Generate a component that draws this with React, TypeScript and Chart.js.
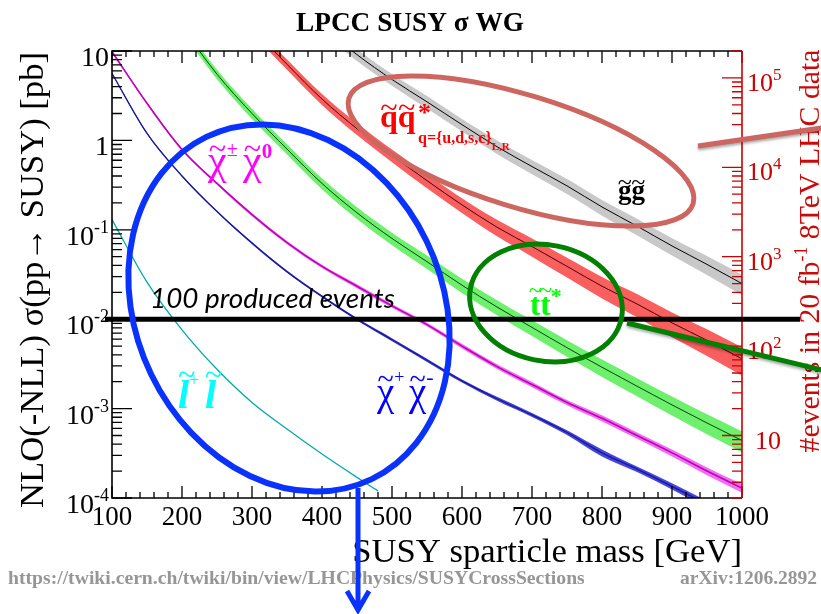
import React, { useEffect, useRef } from "react";
import { Chart, registerables } from "chart.js";

Chart.register(...registerables);

const SERIF = '"Liberation Serif", "Times New Roman", "DejaVu Serif", serif';
const SANS_IT = 'Lato, "Open Sans", "DejaVu Sans", sans-serif';

// ---------------- data ----------------
const massGeV = [100, 150, 200, 250, 300, 350, 400, 450, 500, 550, 600, 650, 700, 750, 800, 850, 900, 950, 1000];

// gluino pair, sigma [pb]
const gluinoPb = [null, null, null, null, null, null, 19, 9.1, 4.8, 2.7, 1.5, 0.85, 0.51, 0.31, 0.18, 0.11, 0.066, 0.041, 0.025];
const gluinoErrPct = [null, null, null, null, null, null, 15, 15, 15, 16, 16, 17, 18, 19, 20, 21, 22, 24, 26];

// squark-antisquark, sigma [pb]
const squarkPb = [null, null, null, null, 18, 7.1, 2.9, 1.35, 0.68, 0.355, 0.19, 0.107, 0.065, 0.039, 0.0234, 0.0148, 0.0091, 0.0058, 0.0036];
const squarkErrPct = [null, null, null, null, 13, 13, 14, 15, 16, 18, 19, 21, 23, 25, 27, 29, 31, 33, 35];

// stop-antistop, sigma [pb]
const stopPb = [null, null, 18.5, 5.5, 2.0, 0.8, 0.33, 0.155, 0.08, 0.044, 0.024, 0.0137, 0.0081, 0.0048, 0.0029, 0.00178, 0.0011, 0.00069, 0.00044];
const stopErrPct = [null, null, 12, 12, 13, 13, 14, 15, 16, 17, 18, 19, 20, 21, 22, 23, 24, 25, 26];

// chargino-neutralino, sigma [pb]
const c1n2Pb = [9.8, 2.6, 0.79, 0.33, 0.148, 0.072, 0.039, 0.0234, 0.0141, 0.0087, 0.005, 0.00295, 0.00186, 0.00117, 0.00078, 0.0005, 0.00032, 0.0002, 0.000129];
const c1n2ErrPct = [3, 3, 3, 3, 4, 4, 4, 5, 5, 5, 6, 6, 7, 7, 8, 8, 9, 10, 11];

// chargino pair, sigma [pb]
const c1c1Pb = [5.6, 1.2, 0.4, 0.16, 0.071, 0.034, 0.018, 0.01, 0.0059, 0.00347, 0.00204, 0.00129, 0.00085, 0.00054, 0.00032, 0.00021, 0.000135, 0.000085, null];
const c1c1ErrPct = [2, 2, 2, 2, 3, 3, 3, 3, 4, 4, 4, 5, 5, 6, 9, 7, 8, 9, null];

// slepton pair, sigma [pb]
const sleptonMassGeV = [100, 150, 200, 250, 300, 350, 400, 450, 480];
const sleptonPb = [0.13, 0.026, 0.0076, 0.00275, 0.00117, 0.00059, 0.00031, 0.00017, 0.00012];

// axes
const xMin = 100;
const xMax = 1000;
const xMajorTicks = [100, 200, 300, 400, 500, 600, 700, 800, 900, 1000];
const xMinorStep = 20;
const yMin = 1e-4;
const yMax = 10;
const yDecadeValues = [10, 1, 0.1, 0.01, 0.001, 0.0001];
const yDecadeLabels = [["10", ""], ["1", ""], ["10", "-1"], ["10", "-2"], ["10", "-3"], ["10", "-4"]];
const lumiPbInv = 20000; // 20 fb^-1
const eventDecadeValues = [10, 100, 1000, 10000, 100000];
const eventDecadeLabels = [["10", ""], ["10", "2"], ["10", "3"], ["10", "4"], ["10", "5"]];
const refLineSigma = 0.01;

// ---------------- helpers ----------------
type Seg = {
  t: string;
  size: number;
  bold?: boolean;
  italic?: boolean;
  family?: string;
  dy?: number;
  at?: number;
  tilde?: { size: number; dy: number; dx?: number };
};

function fontOf(s: Seg, k = 1) {
  return `${s.italic ? "italic " : ""}${s.bold ? "bold " : ""}${(s.size * k).toFixed(2)}px ${s.family || SERIF}`;
}

function segsWidth(ctx: CanvasRenderingContext2D, segs: Seg[], k = 1) {
  let cx = 0;
  for (const s of segs) {
    if (s.at !== undefined) cx = s.at * k;
    ctx.font = fontOf(s, k);
    cx += ctx.measureText(s.t).width;
  }
  return cx;
}

function drawSegs(ctx: CanvasRenderingContext2D, segs: Seg[], x: number, y: number, color: string, k = 1) {
  let cx = 0;
  ctx.fillStyle = color;
  ctx.textAlign = "left";
  ctx.textBaseline = "alphabetic";
  for (const s of segs) {
    if (s.at !== undefined) cx = s.at * k;
    ctx.font = fontOf(s, k);
    const w = ctx.measureText(s.t).width;
    ctx.fillText(s.t, x + cx, y + (s.dy || 0) * k);
    if (s.tilde) {
      ctx.font = `${(s.tilde.size * k).toFixed(2)}px ${SERIF}`;
      const tw = ctx.measureText("~").width;
      ctx.fillText("~", x + cx + (w - tw) / 2 + (s.tilde.dx || 0) * k, y + s.tilde.dy * k);
    }
    cx += w;
  }
}

function pts(mass: number[], vals: (number | null)[], err?: (number | null)[], sign = 0) {
  const out: { x: number; y: number }[] = [];
  mass.forEach((m, i) => {
    const v = vals[i];
    if (v === null || v === undefined) return;
    const e = err ? (err[i] as number) / 100 : 0;
    out.push({ x: m, y: v * (1 + sign * e) });
  });
  return out;
}

function lineDs(label: string, mass: number[], vals: (number | null)[], color: string, width: number) {
  return {
    label,
    data: pts(mass, vals),
    borderColor: color,
    backgroundColor: color,
    borderWidth: width,
    pointRadius: 0,
    fill: false,
    cubicInterpolationMode: "monotone",
    clip: 0,
    order: 0,
  };
}

function bandDs(label: string, mass: number[], vals: (number | null)[], err: (number | null)[], color: string) {
  return [
    {
      label: label + " up",
      data: pts(mass, vals, err, 1),
      borderColor: "rgba(0,0,0,0)",
      backgroundColor: color,
      borderWidth: 0,
      pointRadius: 0,
      fill: "+1",
      cubicInterpolationMode: "monotone",
      clip: 0,
      order: 1,
    },
    {
      label: label + " down",
      data: pts(mass, vals, err, -1),
      borderColor: "rgba(0,0,0,0)",
      backgroundColor: color,
      borderWidth: 0,
      pointRadius: 0,
      fill: false,
      cubicInterpolationMode: "monotone",
      clip: 0,
      order: 1,
    },
  ];
}

const RED_AXIS = "rgb(204,0,0)";

const decorPlugin = {
  id: "decor",
  afterDraw(chart: any) {
    const ctx = chart.ctx as CanvasRenderingContext2D;
    const a = chart.chartArea;
    const xs = chart.scales.x;
    const ys = chart.scales.y;
    const y2 = chart.scales.y2;
    ctx.save();
    ctx.lineCap = "butt";

    // ---- frame & ticks ----
    ctx.strokeStyle = "#000";
    ctx.lineWidth = 1.6;
    ctx.beginPath();
    ctx.moveTo(a.right, a.top);
    ctx.lineTo(a.left, a.top);
    ctx.lineTo(a.left, a.bottom);
    ctx.lineTo(a.right, a.bottom);
    ctx.stroke();

    ctx.lineWidth = 1.3;
    ctx.beginPath();
    for (let m = xMin; m <= xMax + 0.001; m += xMinorStep) {
      const px = xs.getPixelForValue(m);
      const len = xMajorTicks.includes(m) ? 12 : 6;
      ctx.moveTo(px, a.bottom);
      ctx.lineTo(px, a.bottom - len);
      ctx.moveTo(px, a.top);
      ctx.lineTo(px, a.top + len);
    }
    for (let e = -4; e <= 1; e++) {
      for (let k = 1; k <= 9; k++) {
        const v = k * Math.pow(10, e);
        if (v < yMin * 0.999 || v > yMax * 1.001) continue;
        const py = ys.getPixelForValue(v);
        const len = k === 1 ? 20 : 10;
        ctx.moveTo(a.left, py);
        ctx.lineTo(a.left + len, py);
      }
    }
    ctx.stroke();

    // right (events) axis
    ctx.strokeStyle = RED_AXIS;
    ctx.lineWidth = 1.6;
    ctx.beginPath();
    ctx.moveTo(a.right, a.top);
    ctx.lineTo(a.right, a.bottom);
    ctx.stroke();
    ctx.lineWidth = 1.3;
    ctx.beginPath();
    for (let e = 0; e <= 5; e++) {
      for (let k = 1; k <= 9; k++) {
        const v = k * Math.pow(10, e);
        if (v < yMin * lumiPbInv * 0.999 || v > yMax * lumiPbInv * 1.001) continue;
        const py = y2.getPixelForValue(v);
        const len = k === 1 ? 20 : 10;
        ctx.moveTo(a.right, py);
        ctx.lineTo(a.right - len, py);
      }
    }
    ctx.stroke();

    // ---- tick labels ----
    yDecadeValues.forEach((v, i) => {
      const py = ys.getPixelForValue(v);
      const [b, ex] = yDecadeLabels[i];
      const segs: Seg[] = [{ t: b, size: 28 }];
      if (ex) segs.push({ t: ex, size: 18, dy: -12 });
      const w = segsWidth(ctx, segs);
      drawSegs(ctx, segs, a.left - 3 - w, py + 15, "#000");
    });
    xMajorTicks.forEach((m) => {
      const px = xs.getPixelForValue(m);
      const segs: Seg[] = [{ t: String(m), size: 27 }];
      const w = segsWidth(ctx, segs);
      drawSegs(ctx, segs, px - w / 2, a.bottom + 27, "#000");
    });
    eventDecadeValues.forEach((v, i) => {
      const py = y2.getPixelForValue(v);
      const [b, ex] = eventDecadeLabels[i];
      const segs: Seg[] = [{ t: b, size: 26 }];
      if (ex) segs.push({ t: ex, size: 17, dy: -11 });
      drawSegs(ctx, segs, ex ? a.right + 5 : a.right + 13, py + 13, RED_AXIS);
    });

    // ---- axis titles ----
    {
      const segs: Seg[] = [{ t: "NLO(-NLL) σ(pp→ SUSY) [pb]", size: 34 }];
      const k = 456 / segsWidth(ctx, segs);
      const w = segsWidth(ctx, segs, k);
      ctx.save();
      ctx.translate(43, 280);
      ctx.rotate(-Math.PI / 2);
      drawSegs(ctx, segs, -w / 2, 0, "#000", k);
      ctx.restore();
    }
    {
      const segs: Seg[] = [
        { t: "#events in 20 fb", size: 30 },
        { t: "-1", size: 18, dy: -12 },
        { t: " 8TeV LHC data", size: 30 },
      ];
      const k = 403 / segsWidth(ctx, segs);
      const w = segsWidth(ctx, segs, k);
      ctx.save();
      ctx.translate(819, 251);
      ctx.rotate(-Math.PI / 2);
      drawSegs(ctx, segs, -w / 2, 0, "rgb(200,10,10)", k);
      ctx.restore();
    }
    {
      const segs: Seg[] = [{ t: "SUSY sparticle mass [GeV]", size: 34 }];
      const k = 390 / segsWidth(ctx, segs);
      const w = segsWidth(ctx, segs, k);
      drawSegs(ctx, segs, a.right - w, 562, "#000", k);
    }
    {
      const segs: Seg[] = [{ t: "LPCC SUSY σ WG", size: 26, bold: true }];
      const k = 228 / segsWidth(ctx, segs);
      const w = segsWidth(ctx, segs, k);
      drawSegs(ctx, segs, 410 - w / 2, 31, "#000", k);
    }

    // ---- process labels ----
    drawSegs(
      ctx,
      [
        { t: "q", size: 32, bold: true, tilde: { size: 32, dy: -9 } },
        { t: "q", size: 32, bold: true, tilde: { size: 32, dy: -9 } },
        { t: "*", size: 26, bold: true, dy: -6, at: 38 },
        { t: "q={u,d,s,c}", size: 16, bold: true, dy: 16, at: 38 },
        { t: "L,R", size: 11, bold: true, dy: 23 },
      ],
      380,
      127,
      "rgb(255,0,0)"
    );
    drawSegs(
      ctx,
      [
        { t: "g", size: 27, bold: true, tilde: { size: 26, dy: -9 } },
        { t: "g", size: 27, bold: true, tilde: { size: 26, dy: -9 } },
      ],
      618,
      199,
      "#000"
    );
    drawSegs(
      ctx,
      [
        { t: "t", size: 31, bold: true, tilde: { size: 24, dy: -17 } },
        { t: "t", size: 31, bold: true, tilde: { size: 24, dy: -17 } },
        { t: "*", size: 22, bold: true, dy: -12 },
      ],
      530,
      315,
      "rgb(0,255,0)"
    );
    drawSegs(
      ctx,
      [
        { t: "χ", size: 42, tilde: { size: 32, dy: -15 } },
        { t: "±", size: 20, dy: -18 },
        { t: "χ", size: 42, at: 35, tilde: { size: 32, dy: -15 } },
        { t: "0", size: 21, bold: true, dy: -16 },
      ],
      208,
      174,
      "rgb(255,0,255)"
    );
    drawSegs(
      ctx,
      [
        { t: "l", size: 40, italic: true, bold: true, tilde: { size: 32, dy: -23, dx: 3 } },
        { t: "+", size: 18, dy: -22 },
        { t: "l", size: 40, italic: true, bold: true, at: 27, tilde: { size: 32, dy: -23, dx: 3 } },
      ],
      178,
      408,
      "rgb(0,255,255)"
    );
    drawSegs(
      ctx,
      [
        { t: "χ", size: 39, tilde: { size: 30, dy: -16 } },
        { t: "+", size: 18, dy: -22 },
        { t: "χ", size: 39, at: 32, tilde: { size: 30, dy: -16 } },
        { t: "-", size: 22, dy: -21 },
      ],
      377,
      405,
      "rgb(0,0,255)"
    );

    // ---- slide annotations ----
    const yRef = ys.getPixelForValue(refLineSigma);
    ctx.strokeStyle = "#000";
    ctx.lineWidth = 5;
    ctx.beginPath();
    ctx.moveTo(a.left - 7, yRef);
    ctx.lineTo(800, yRef);
    ctx.stroke();
    {
      const segs: Seg[] = [{ t: "100 produced events", size: 24, italic: true, family: SANS_IT }];
      const k = 245 / segsWidth(ctx, segs);
      drawSegs(ctx, segs, 150, yRef - 11, "#000", k);
    }

    // red-brown ellipse + pointer
    ctx.strokeStyle = "rgb(205,102,96)";
    ctx.lineWidth = 5;
    ctx.beginPath();
    ctx.ellipse(521, 151, 180, 56, 0.297, 0, Math.PI * 2);
    ctx.stroke();
    ctx.save();
    ctx.shadowColor = "rgba(0,0,0,0.35)";
    ctx.shadowBlur = 3;
    ctx.shadowOffsetY = 2;
    ctx.beginPath();
    ctx.moveTo(698, 146);
    ctx.lineTo(822, 128);
    ctx.stroke();
    ctx.restore();

    // green ellipse + pointer
    ctx.strokeStyle = "rgb(0,128,0)";
    ctx.lineWidth = 5;
    ctx.beginPath();
    ctx.ellipse(546, 303, 77, 58, 0.2, 0, Math.PI * 2);
    ctx.stroke();
    ctx.save();
    ctx.shadowColor = "rgba(0,0,0,0.35)";
    ctx.shadowBlur = 3;
    ctx.shadowOffsetY = 2;
    ctx.beginPath();
    ctx.moveTo(627, 323);
    ctx.lineTo(822, 370);
    ctx.stroke();
    ctx.restore();

    // footer texts
    {
      const segs: Seg[] = [{ t: "https://twiki.cern.ch/twiki/bin/view/LHCPhysics/SUSYCrossSections", size: 16, bold: true }];
      const k = 577 / segsWidth(ctx, segs);
      drawSegs(ctx, segs, 8, 584, "rgb(150,150,150)", k);
      const s2: Seg[] = [{ t: "arXiv:1206.2892", size: 16, bold: true }];
      const k2 = 137 / segsWidth(ctx, s2);
      drawSegs(ctx, s2, 817 - segsWidth(ctx, s2, k2), 584, "rgb(150,150,150)", k2);
    }

    // blue ellipse + arrow
    ctx.strokeStyle = "rgb(10,50,255)";
    ctx.lineWidth = 6;
    ctx.beginPath();
    ctx.ellipse(289, 308, 153, 190, -0.45, 0, Math.PI * 2);
    ctx.stroke();
    ctx.lineWidth = 5;
    ctx.lineJoin = "miter";
    ctx.beginPath();
    ctx.moveTo(358, 488);
    ctx.lineTo(358, 611);
    ctx.moveTo(347, 591);
    ctx.lineTo(358, 610);
    ctx.lineTo(369, 591);
    ctx.stroke();

    ctx.restore();
  },
};

export default function App() {
  const ref = useRef<HTMLCanvasElement>(null);
  useEffect(() => {
    if (!ref.current) return;
    const datasets: any[] = [
      lineDs("gluino", massGeV, gluinoPb, "#000", 1),
      lineDs("squark", massGeV, squarkPb, "rgb(70,0,0)", 1),
      lineDs("stop", massGeV, stopPb, "rgb(0,70,0)", 1),
      lineDs("chi+- chi0", massGeV, c1n2Pb, "rgb(190,0,190)", 1.6),
      lineDs("chi+ chi-", massGeV, c1c1Pb, "rgb(25,25,150)", 1.3),
      lineDs("slepton", sleptonMassGeV, sleptonPb, "rgb(0,170,170)", 1.3),
      ...bandDs("gluino", massGeV, gluinoPb, gluinoErrPct, "rgb(200,200,200)"),
      ...bandDs("squark", massGeV, squarkPb, squarkErrPct, "rgb(250,95,95)"),
      ...bandDs("stop", massGeV, stopPb, stopErrPct, "rgb(110,240,110)"),
      ...bandDs("chi+- chi0", massGeV, c1n2Pb, c1n2ErrPct, "rgb(240,110,240)"),
      ...bandDs("chi+ chi-", massGeV, c1c1Pb, c1c1ErrPct, "rgb(70,70,220)"),
    ];
    const chart = new Chart(ref.current, {
      type: "line",
      data: { datasets },
      options: {
        responsive: false,
        animation: false,
        devicePixelRatio: 1,
        layout: { padding: { left: 112, right: 79, top: 51, bottom: 116 } },
        plugins: { legend: { display: false }, tooltip: { enabled: false }, title: { display: false } },
        scales: {
          x: { type: "linear", min: xMin, max: xMax, display: false },
          y: { type: "logarithmic", min: yMin, max: yMax, display: false },
          y2: { type: "logarithmic", min: yMin * lumiPbInv, max: yMax * lumiPbInv, display: false },
        },
      } as any,
      plugins: [decorPlugin],
    } as any);
    return () => chart.destroy();
  }, []);
  return (
    <div style={{ position: "fixed", left: 0, top: 0, width: 821, height: 614, background: "#fff" }}>
      <canvas ref={ref} width={821} height={614} style={{ display: "block", width: 821, height: 614 }} />
    </div>
  );
}
